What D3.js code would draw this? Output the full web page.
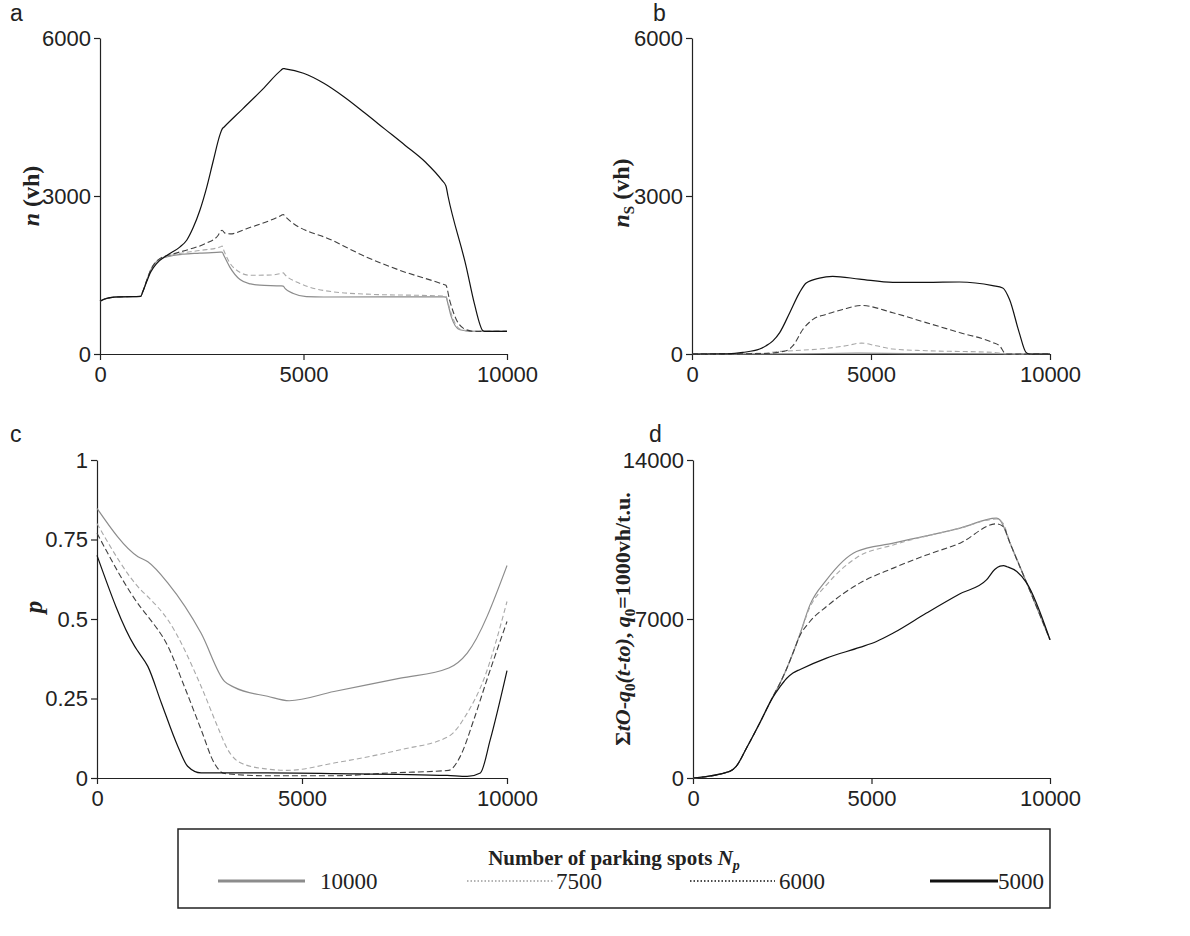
<!DOCTYPE html>
<html><head><meta charset="utf-8">
<script src="https://cdn.jsdelivr.net/npm/d3@7"></script>
<style>body{margin:0;background:#fff}svg{display:block}</style>
</head><body>
<svg id="c" width="1190" height="936"></svg>
<script>
// ---------- DATA ----------
const seriesNames = ["10000", "7500", "6000", "5000"];
const xTicks = [0, 5000, 10000];
const yTicksA = [0, 3000, 6000];
const yTicksB = [0, 3000, 6000];
const yTicksC = [0, 0.25, 0.5, 0.75, 1];
const yTicksD = [0, 7000, 14000];

// Panel a: n (vh)
const a10000 = [[0,1000],[100,1040],[250,1070],[500,1085],[1000,1095],[1050,1180],[1150,1400],[1250,1600],[1470,1800],[1800,1870],[2450,1915],[2950,1933],[3000,1935],[3050,1860],[3190,1650],[3440,1413],[3700,1330],[3930,1306],[4450,1294],[4500,1290],[4550,1240],[4750,1150],[5070,1090],[5500,1082],[8450,1085],[8500,1080],[8550,950],[8630,710],[8840,460],[9160,430],[10000,430]];
const a7500 = [[0,1000],[100,1040],[250,1070],[500,1085],[1000,1095],[1050,1180],[1150,1400],[1250,1600],[1470,1805],[1800,1885],[2450,1965],[2950,2030],[3000,2050],[3050,1950],[3270,1650],[3680,1495],[4200,1500],[4450,1530],[4500,1540],[4550,1500],[4910,1340],[5730,1180],[6550,1137],[8450,1100],[8500,1095],[8560,950],[8650,720],[8850,470],[9200,430],[10000,430]];
const a6000 = [[0,1000],[100,1040],[250,1070],[500,1085],[1000,1095],[1050,1180],[1150,1400],[1250,1600],[1470,1810],[1800,1900],[2200,1990],[2600,2100],[2900,2250],[2960,2330],[3000,2350],[3060,2300],[3200,2280],[3600,2380],[4450,2630],[4500,2650],[4550,2610],[5730,2150],[6550,1840],[7365,1590],[8450,1320],[8500,1306],[8590,1024],[8760,647],[9000,460],[9200,430],[10000,430]];
const a5000 = [[0,1000],[100,1040],[250,1070],[500,1085],[1000,1095],[1050,1180],[1150,1380],[1250,1560],[1390,1715],[1640,1870],[1960,2030],[2130,2160],[2290,2400],[2450,2720],[2620,3160],[2780,3660],[2950,4170],[3000,4270],[3050,4310],[3500,4650],[4000,5030],[4450,5390],[4500,5420],[4550,5415],[5000,5330],[5500,5140],[6000,4880],[6500,4580],[7000,4270],[7500,3960],[8000,3640],[8400,3300],[8500,3190],[8550,3000],[9000,1650],[9200,950],[9410,440],[9450,430],[10000,430]];

// Panel b: n_S (vh)
const b10000 = [[0,0],[3000,5],[4700,15],[6000,8],[8500,5],[10000,0]];
const b7500 = [[0,0],[2000,15],[2350,44],[2820,63],[3750,107],[4300,157],[4730,207],[5140,157],[5610,94],[6540,63],[8400,31],[8770,5],[10000,0]];
const b6000 = [[0,0],[2000,10],[2630,63],[2820,157],[3100,470],[3380,658],[3750,752],[4210,846],[4730,922],[5610,784],[6540,596],[7470,408],[8400,219],[8590,157],[8770,0],[10000,0]];
const b5000 = [[0,0],[1000,5],[1420,30],[1890,94],[2070,157],[2260,250],[2450,407],[2730,784],[3000,1160],[3190,1348],[3560,1442],[3930,1473],[4680,1423],[5610,1360],[6540,1360],[7470,1367],[8400,1298],[8680,1254],[8870,1034],[9140,407],[9330,31],[9420,0],[10000,0]];

// Panel c: p
const c10000 = [[0,0.848],[1000,0.696],[1240,0.68],[1730,0.613],[2540,0.455],[3110,0.304],[3350,0.285],[4160,0.257],[4690,0.243],[5780,0.272],[7400,0.314],[8580,0.346],[9030,0.393],[10000,0.668]];
const c7500 = [[0,0.80],[1080,0.59],[1240,0.57],[1730,0.497],[2540,0.288],[2940,0.162],[3190,0.089],[3510,0.047],[4160,0.028],[4650,0.024],[5780,0.047],[7400,0.089],[8580,0.131],[9030,0.204],[9430,0.309],[10000,0.555]];
const c6000 = [[0,0.77],[1080,0.534],[1240,0.508],[1730,0.414],[2130,0.288],[2540,0.152],[2860,0.047],[3110,0.014],[4160,0.007],[5780,0.007],[7160,0.016],[8580,0.024],[8860,0.068],[9190,0.183],[9510,0.309],[10000,0.492]];
const c5000 = [[0,0.70],[920,0.414],[1000,0.398],[1240,0.351],[1570,0.236],[1970,0.10],[2210,0.037],[2540,0.016],[4160,0.016],[5780,0.014],[8540,0.008],[9030,0.005],[9350,0.016],[9590,0.12],[10000,0.338]];

// Panel d: cumulative outflow minus q0(t - t0)
const d10000 = [[0,0],[1030,293],[1210,513],[1500,1320],[1870,2420],[2240,3590],[2430,4150],[2620,4800],[2800,5500],[3000,6350],[3270,7600],[3740,8720],[4580,9970],[5610,10340],[7480,11000],[8500,11440],[8600,11360],[8880,10350],[9350,8580],[10000,6085]];
const d7500 = [[0,0],[1030,293],[1210,513],[1500,1320],[1870,2420],[2240,3590],[2430,4150],[2620,4800],[2800,5500],[3000,6350],[3270,7500],[3740,8500],[4580,9700],[5610,10260],[7480,11000],[8500,11400],[8690,11200],[8880,10350],[9350,8580],[10000,6085]];
const d6000 = [[0,0],[1030,293],[1210,513],[1500,1320],[1870,2420],[2240,3590],[2430,4150],[2620,4800],[2800,5500],[2990,6250],[3270,6880],[3740,7550],[4670,8580],[5610,9240],[6540,9820],[7480,10340],[8500,11190],[8690,11070],[8880,10340],[9350,8580],[10000,6085]];
const d5000 = [[0,0],[1030,293],[1210,513],[1500,1320],[1870,2420],[2240,3560],[2430,4000],[2620,4380],[2800,4620],[3000,4780],[3740,5280],[4670,5750],[5140,6010],[5610,6380],[6540,7260],[7480,8110],[8220,8720],[8450,9180],[8600,9330],[8700,9350],[8800,9300],[9070,9090],[9350,8580],[10000,6085]];

// Legend entries
const legendLabels = ["10000", "7500", "6000", "5000"];

// ---------- STYLE ----------
const styles = {
  "10000": {stroke:"#8c8c8c", dash:null, w:1.2},
  "7500":  {stroke:"#a8a8a8", dash:"5,3", w:1.1},
  "6000":  {stroke:"#404040", dash:"6,3", w:1.1},
  "5000":  {stroke:"#111111", dash:null, w:1.2}
};

const svg = d3.select("#c");
const sansFont = "'Liberation Sans', Arial, sans-serif";
const serifFont = "'Liberation Serif', 'Times New Roman', serif";

function panel(cfg) {
  const x = d3.scaleLinear().domain([0, 10000]).range([cfg.left, cfg.right]);
  const y = d3.scaleLinear().domain([0, cfg.ymax]).range([cfg.bottom, cfg.top]);
  const g = svg.append("g");

  const xa = g.append("g").attr("transform", `translate(0,${cfg.bottom})`)
    .call(d3.axisBottom(x).tickValues(xTicks).tickSize(6).tickSizeOuter(0).tickFormat(d3.format("d")));
  const ya = g.append("g").attr("transform", `translate(${cfg.left},0)`)
    .call(d3.axisLeft(y).tickValues(cfg.yticks).tickSize(6).tickSizeOuter(0).tickFormat(cfg.yfmt));
  [xa, ya].forEach(ax => {
    ax.selectAll("path.domain").attr("stroke", "#222").attr("stroke-width", 1.2);
    ax.selectAll(".tick line").attr("stroke", "#222").attr("stroke-width", 1.2);
    ax.selectAll("text").attr("font-family", sansFont).attr("font-size", 22).attr("fill", "#222");
  });
  xa.selectAll("text").attr("dy", "0.85em");

  const line = d3.line().x(d => x(d[0])).y(d => y(d[1])).curve(d3.curveMonotoneX);
  cfg.series.forEach((s, i) => {
    const st = styles[seriesNames[i]];
    g.append("path").datum(s).attr("d", line).attr("fill", "none")
      .attr("stroke", st.stroke).attr("stroke-width", st.w)
      .attr("stroke-dasharray", st.dash);
  });

  g.append("text").attr("x", cfg.letterX).attr("y", cfg.letterY)
    .attr("font-family", sansFont).attr("font-size", 23).attr("fill", "#222").text(cfg.letter);

  const t = g.append("text").attr("transform", `translate(${cfg.titleX},${cfg.titleY}) rotate(-90)`)
    .attr("text-anchor", "middle").attr("font-family", serifFont).attr("font-weight", "bold")
    .attr("font-size", cfg.titleSize).attr("fill", "#222");
  cfg.title(t);
}

const yfmtInt = d3.format("d");
const yfmtP = d => String(d);

panel({left:100, right:507, top:38, bottom:354, ymax:6000, yticks:yTicksA, yfmt:yfmtInt,
  series:[a10000, a7500, a6000, a5000], letter:"a", letterX:10, letterY:21, titleX:39, titleY:196, titleSize:24,
  title: t => { t.append("tspan").attr("font-style","italic").text("n"); t.append("tspan").text(" (vh)"); }});
panel({left:692, right:1050, top:38, bottom:354, ymax:6000, yticks:yTicksB, yfmt:yfmtInt,
  series:[b10000, b7500, b6000, b5000], letter:"b", letterX:653, letterY:21, titleX:629, titleY:193, titleSize:24,
  title: t => { t.append("tspan").attr("font-style","italic").text("n");
    t.append("tspan").attr("font-size",15).attr("dy",5).text("S");
    t.append("tspan").attr("dy",-5).text(" (vh)"); }});
panel({left:97, right:507, top:460, bottom:778, ymax:1, yticks:yTicksC, yfmt:yfmtP,
  series:[c10000, c7500, c6000, c5000], letter:"c", letterX:10, letterY:442, titleX:42, titleY:607, titleSize:25,
  title: t => { t.append("tspan").attr("font-style","italic").text("p"); }});
panel({left:693, right:1050, top:460, bottom:778, ymax:14000, yticks:yTicksD, yfmt:yfmtInt,
  series:[d10000, d7500, d6000, d5000], letter:"d", letterX:649, letterY:442, titleX:630, titleY:619, titleSize:22,
  title: t => {
    t.append("tspan").text("Σ");
    t.append("tspan").attr("font-style","italic").text("tO");
    t.append("tspan").text("-");
    t.append("tspan").attr("font-style","italic").text("q");
    t.append("tspan").attr("font-size",15).attr("dy",5).text("0");
    t.append("tspan").attr("dy",-5).attr("font-style","italic").text("(t-to)");
    t.append("tspan").text(", ");
    t.append("tspan").attr("font-style","italic").text("q");
    t.append("tspan").attr("font-size",15).attr("dy",5).text("0");
    t.append("tspan").attr("dy",-5).text("=1000vh/t.u.");
  }});

// ---------- LEGEND ----------
const leg = svg.append("g");
leg.append("rect").attr("x", 178).attr("y", 829).attr("width", 872).attr("height", 79)
  .attr("fill", "none").attr("stroke", "#222").attr("stroke-width", 1.5);
const lt = leg.append("text").attr("x", 614).attr("y", 865).attr("text-anchor", "middle")
  .attr("font-family", serifFont).attr("font-weight", "bold").attr("font-size", 21).attr("fill", "#222");
lt.append("tspan").text("Number of parking spots ");
lt.append("tspan").attr("font-style", "italic").text("N");
lt.append("tspan").attr("font-style", "italic").attr("font-size", 14).attr("dy", 5).text("p");

const legStyles = {
  "10000": {stroke:"#8c8c8c", dash:null, w:3},
  "7500":  {stroke:"#9a9a9a", dash:"1.5,2", w:1.6},
  "6000":  {stroke:"#111", dash:"1.5,2", w:1.6},
  "5000":  {stroke:"#111", dash:null, w:3}
};
const legStart = [218, 467, 690, 930];
const legEnd = [305, 553, 775, 998];
const legText = [320, 556, 779, 998];
legendLabels.forEach((k, i) => {
  const st = legStyles[k];
  leg.append("line").attr("x1", legStart[i]).attr("x2", legEnd[i])
    .attr("y1", 881).attr("y2", 881).attr("stroke", st.stroke).attr("stroke-width", st.w)
    .attr("stroke-dasharray", st.dash);
  leg.append("text").attr("x", legText[i]).attr("y", 889)
    .attr("font-family", serifFont).attr("font-size", 23).attr("fill", "#222").text(k);
});
</script>
</body></html>
